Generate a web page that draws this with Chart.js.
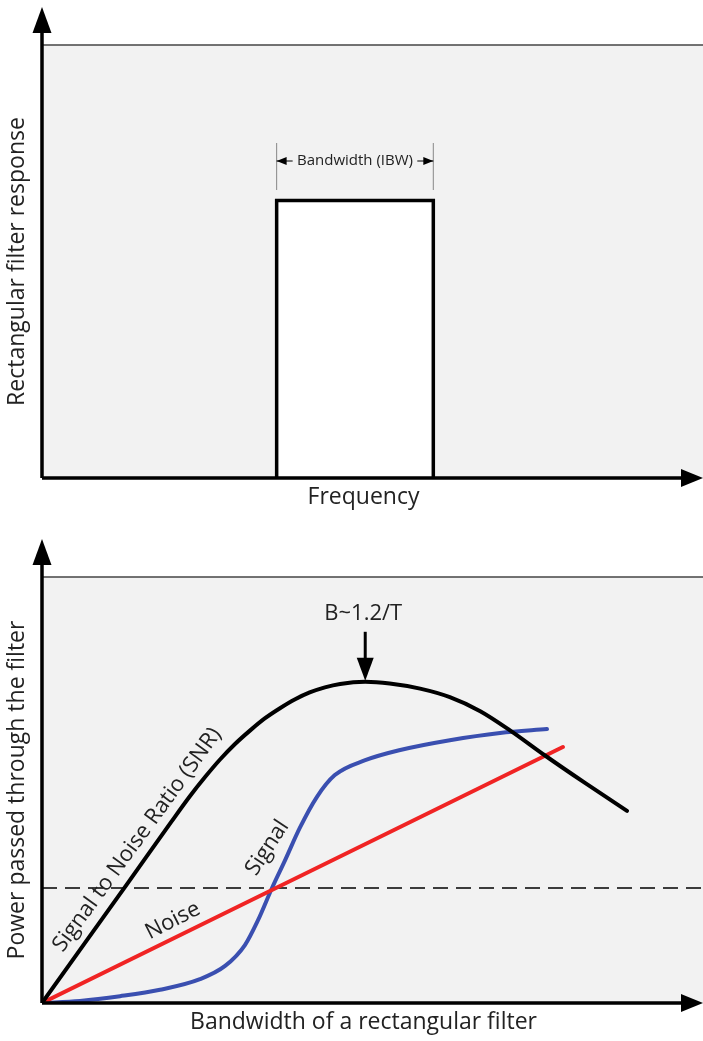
<!DOCTYPE html>
<html>
<head>
<meta charset="utf-8">
<script src="https://cdn.jsdelivr.net/npm/chart.js@4.4.0/dist/chart.umd.min.js"></script>
<style>
  html, body { margin: 0; padding: 0; background: #fff; }
  canvas { display: block; }
</style>
</head>
<body>
<canvas id="filterChart" width="703" height="520"></canvas>
<canvas id="powerChart" width="703" height="521"></canvas>
<script>
"use strict";

// --- Veri ---------------------------------------------------------------------

// ust grafik: dikdortgen filtre (frekans 0..100, yanit 0..1.56)
const rectFreq = [35.5, 35.5, 59.2, 59.2];
const rectResp = [0, 1, 1, 0];

// alt grafik: bant genisligi 0..100, guc 0..100
const snrBw = [0, 6.5, 13.0, 19.5, 22.4, 24.7, 26.9, 29.2, 31.5, 33.7, 36.0, 38.3, 40.5, 42.8, 45.1, 48.9, 52.6, 57.2, 61.7, 66.3, 70.8, 76.1, 82.2, 88.5];
const snrPow = [0, 14.1, 28.2, 42.4, 48.6, 53.1, 57.1, 60.8, 64.0, 66.8, 69.2, 71.3, 72.9, 74.1, 74.9, 75.4, 75.0, 73.8, 71.8, 68.5, 64.0, 58.1, 51.6, 45.1];

const sigBw = [0, 5.75, 11.8, 17.85, 23.9, 27.7, 30.7, 32.7, 34.8, 36.8, 39.0, 41.6, 44.3, 48.9, 54.2, 61.7, 69.3, 76.4];
const sigPow = [0, 0.5, 1.6, 3.1, 5.6, 8.7, 13.6, 19.5, 27.0, 33.6, 41.1, 48.4, 53.5, 57.0, 59.4, 61.7, 63.4, 64.3];

const noiseBw = [0, 78.8];
const noisePow = [0, 60.1];

const refBw = [0, 100];
const refPow = [27.0, 27.0];

const peakBw = 48.9; // B~1.2/T
const peakPow = 75.4;

// --- Yardimcilar --------------------------------------------------------------

const FONT = "'Open Sans', 'DejaVu Sans', sans-serif";
const TXT = "#222";
const zip = (xs, ys) => xs.map((x, i) => ({ x, y: ys[i] }));

function tri(ctx, pts) {
  ctx.beginPath();
  ctx.moveTo(pts[0][0], pts[0][1]);
  ctx.lineTo(pts[1][0], pts[1][1]);
  ctx.lineTo(pts[2][0], pts[2][1]);
  ctx.closePath();
  ctx.fill();
}

function rotText(ctx, text, x, y, deg, size) {
  ctx.save();
  ctx.translate(x, y);
  ctx.rotate(deg * Math.PI / 180);
  ctx.font = `${size}px ${FONT}`;
  ctx.fillStyle = TXT;
  ctx.textAlign = "center";
  ctx.textBaseline = "middle";
  ctx.fillText(text, 0, 0);
  ctx.restore();
}

// gri alan + ust cizgi
const panelBg = {
  id: "panelBg",
  beforeDraw(chart) {
    const { ctx, chartArea: a } = chart;
    ctx.save();
    ctx.fillStyle = "#f2f2f2";
    ctx.fillRect(a.left, a.top, a.right - a.left, a.bottom - a.top);
    ctx.strokeStyle = "#444";
    ctx.lineWidth = 1.5;
    ctx.beginPath();
    ctx.moveTo(a.left, a.top);
    ctx.lineTo(a.right, a.top);
    ctx.stroke();
    ctx.restore();
  },
};

// eksen oklari + eksen basliklari
function arrowAxes(xTitle, yTitle) {
  return {
    id: "arrowAxes",
    afterDatasetsDraw(chart) {
      const { ctx, chartArea: a } = chart;
      ctx.save();
      ctx.strokeStyle = "#000";
      ctx.fillStyle = "#000";
      ctx.lineWidth = 3.5;
      ctx.beginPath();
      ctx.moveTo(a.left, a.bottom);
      ctx.lineTo(a.left, a.top - 20);
      ctx.moveTo(a.left, a.bottom);
      ctx.lineTo(a.right - 18, a.bottom);
      ctx.stroke();
      tri(ctx, [[a.left, a.top - 38], [a.left - 9.5, a.top - 12], [a.left + 9.5, a.top - 12]]);
      tri(ctx, [[a.right, a.bottom], [a.right - 22, a.bottom - 9], [a.right - 22, a.bottom + 9]]);
      ctx.restore();
      rotText(ctx, yTitle, 17, (a.top + a.bottom) / 2, -90, 23);
      rotText(ctx, xTitle, (a.left + a.right) / 2 - 9, a.bottom + 19, 0, 23);
    },
  };
}

const hiddenScales = (xmax, ymax) => ({
  x: { type: "linear", min: 0, max: xmax, display: false },
  y: { type: "linear", min: 0, max: ymax, display: false },
});

const baseOptions = {
  responsive: false,
  animation: false,
  events: [],
  plugins: { legend: { display: false }, tooltip: { enabled: false } },
  elements: { point: { radius: 0 } },
};

// --- Ust grafik ---------------------------------------------------------------

const bandwidthNote = {
  id: "bandwidthNote",
  afterDatasetsDraw(chart) {
    const { ctx, scales: { x } } = chart;
    const l = x.getPixelForValue(rectFreq[0]);
    const r = x.getPixelForValue(rectFreq[2]);
    const y = 161;
    ctx.save();
    ctx.strokeStyle = "#888";
    ctx.lineWidth = 1;
    ctx.beginPath();
    ctx.moveTo(l, 143); ctx.lineTo(l, 190);
    ctx.moveTo(r, 143); ctx.lineTo(r, 190);
    ctx.stroke();
    ctx.strokeStyle = "#000";
    ctx.fillStyle = "#000";
    ctx.beginPath();
    ctx.moveTo(l, y); ctx.lineTo(l + 16, y);
    ctx.moveTo(r, y); ctx.lineTo(r - 16, y);
    ctx.stroke();
    tri(ctx, [[l, y], [l + 10, y - 4], [l + 10, y + 4]]);
    tri(ctx, [[r, y], [r - 10, y - 4], [r - 10, y + 4]]);
    ctx.restore();
    rotText(ctx, "Bandwidth (IBW)", (l + r) / 2, y, 0, 15);
  },
};

new Chart(document.getElementById("filterChart"), {
  type: "line",
  data: {
    datasets: [{
      data: zip(rectFreq, rectResp),
      borderColor: "#000",
      borderWidth: 3.5,
      backgroundColor: "#fff",
      fill: "origin",
      tension: 0,
    }],
  },
  options: {
    ...baseOptions,
    layout: { padding: { left: 42, top: 45, right: 0, bottom: 42 } },
    scales: hiddenScales(100, 1.56),
  },
  plugins: [panelBg, bandwidthNote, arrowAxes("Frequency", "Rectangular filter response")],
});

// --- Alt grafik ---------------------------------------------------------------

const curveNotes = {
  id: "curveNotes",
  afterDatasetsDraw(chart) {
    const { ctx, scales: { x, y } } = chart;
    const px = x.getPixelForValue(peakBw);
    const top = y.getPixelForValue(peakPow);
    ctx.save();
    ctx.strokeStyle = "#000";
    ctx.fillStyle = "#000";
    ctx.lineWidth = 3;
    ctx.beginPath();
    ctx.moveTo(px, top - 50);
    ctx.lineTo(px, top - 20);
    ctx.stroke();
    tri(ctx, [[px, top - 1], [px - 8.5, top - 24], [px + 8.5, top - 24]]);
    ctx.restore();
    rotText(ctx, "B~1.2/T", px - 2, top - 68, 0, 22);

    rotText(ctx, "Signal to Noise Ratio (SNR)", x.getPixelForValue(14.4), y.getPixelForValue(38.3), -54, 22);
    rotText(ctx, "Noise", x.getPixelForValue(19.8), y.getPixelForValue(19.3), -27, 22);
    rotText(ctx, "Signal", x.getPixelForValue(34.1), y.getPixelForValue(36.4), -57, 22);
  },
};

const line = (bw, pow, color, order, extra = {}) => ({
  data: zip(bw, pow),
  borderColor: color,
  borderWidth: 4,
  fill: false,
  cubicInterpolationMode: "monotone",
  borderCapStyle: "round",
  order,
  ...extra,
});

new Chart(document.getElementById("powerChart"), {
  type: "line",
  data: {
    datasets: [
      line(refBw, refPow, "#000", 3, { borderWidth: 1.5, borderDash: [15, 8], borderCapStyle: "butt" }),
      line(sigBw, sigPow, "#3a4fb0", 2),
      line(noiseBw, noisePow, "#f02424", 1),
      line(snrBw, snrPow, "#000", 0),
    ],
  },
  options: {
    ...baseOptions,
    layout: { padding: { left: 42, top: 57, right: 0, bottom: 38 } },
    scales: hiddenScales(100, 100),
  },
  plugins: [panelBg, curveNotes, arrowAxes("Bandwidth of a rectangular filter", "Power passed through the filter")],
});
</script>
</body>
</html>
